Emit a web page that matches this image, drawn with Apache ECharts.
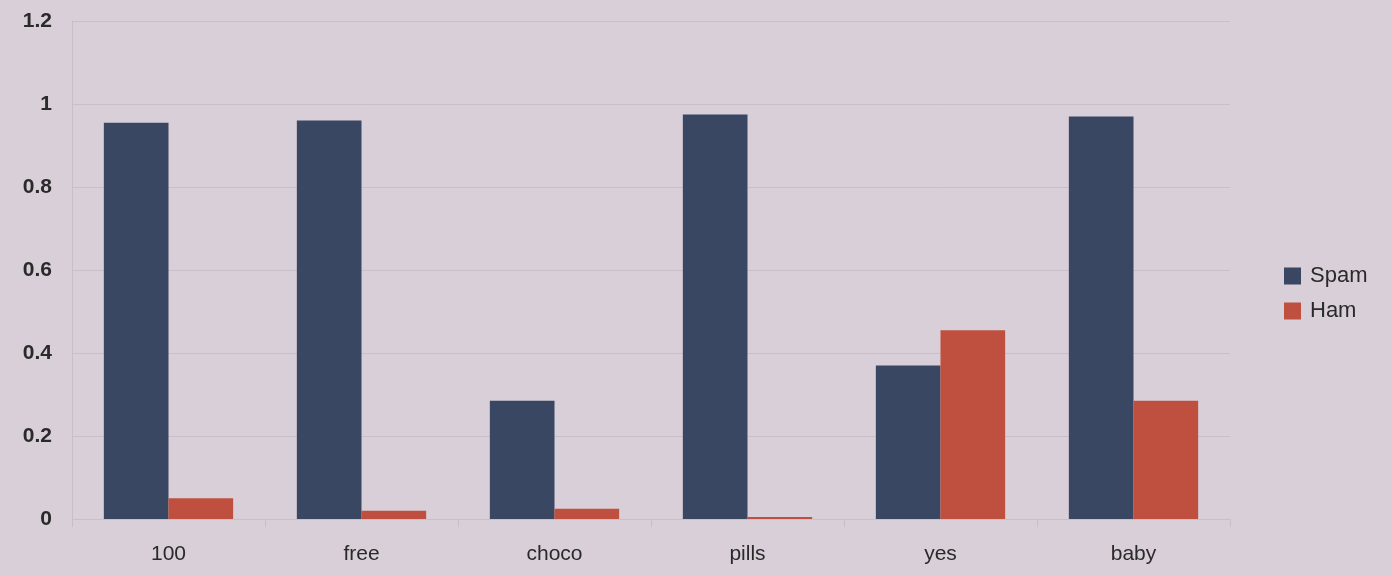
<!DOCTYPE html>
<html>
<head>
<meta charset="utf-8">
<script src="https://cdn.jsdelivr.net/npm/echarts@6/dist/echarts.min.js"></script>
<style>
  html, body { margin: 0; padding: 0; background: #d8cfd8; }
  #chart { width: 1392px; height: 575px; }
</style>
</head>
<body>
<div id="chart"></div>
<script>
const categories = ['100', 'free', 'choco', 'pills', 'yes', 'baby'];
const spam = [0.955, 0.96, 0.285, 0.975, 0.37, 0.97];
const ham = [0.05, 0.02, 0.025, 0.005, 0.455, 0.285];

const faint = '#c9bfca';
const textStyle = { color: '#2a2a2a', fontFamily: 'Liberation Sans', fontSize: 21 };

let chart = echarts.init(document.getElementById('chart'));
chart.setOption({
    backgroundColor: '#d8cfd8',
    animation: false,
    grid: { left: 72, right: 162, top: 21, bottom: 56 },
    legend: {
        orient: 'vertical',
        left: 1279,
        top: 260,
        itemWidth: 17,
        itemHeight: 17,
        itemGap: 13,
        icon: 'rect',
        textStyle: Object.assign({}, textStyle, { fontSize: 22, padding: [0, 0, 0, 4] }),
        data: ['Spam', 'Ham']
    },
    xAxis: {
        type: 'category',
        data: categories,
        axisLine: { lineStyle: { color: faint } },
        axisTick: { show: true, length: 8, lineStyle: { color: faint } },
        axisLabel: Object.assign({}, textStyle, { margin: 25 })
    },
    yAxis: {
        type: 'value',
        min: 0,
        max: 1.2,
        interval: 0.2,
        axisLine: { show: true, lineStyle: { color: faint } },
        axisLabel: Object.assign({}, textStyle, { fontWeight: 'bold', margin: 20,
            formatter: v => String(Math.round(v * 10) / 10) }),
        splitLine: { lineStyle: { color: faint } }
    },
    series: [
        { name: 'Spam', type: 'bar', data: spam, barGap: '0%', barCategoryGap: '33%',
          itemStyle: { color: '#3a4762' } },
        { name: 'Ham', type: 'bar', data: ham,
          itemStyle: { color: '#bf503f' } }
    ]
});
</script>
</body>
</html>
